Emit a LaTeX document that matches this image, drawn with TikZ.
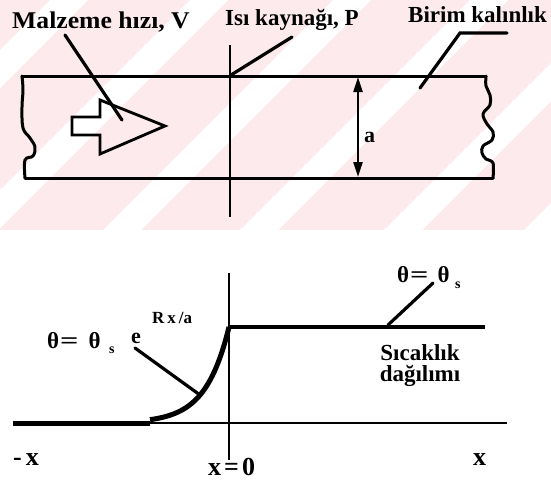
\documentclass[tikz,border=0pt]{standalone}
\usepackage{fontspec}
\setmainfont{Liberation Serif}
\newfontfamily\heavyfont{Liberation Serif}[UprightFont={* Bold}]
\usetikzlibrary{arrows.meta}
\definecolor{wmpink}{RGB}{253,234,237}
\begin{document}
\begin{tikzpicture}[x=1pt,y=-1pt,
  lbl/.style={inner sep=0pt, anchor=base west, font=\heavyfont\fontsize{#1}{#1}\selectfont},
  edge3/.style={line width=3pt, line cap=round, line join=round},
  leader/.style={line width=3.2pt, line cap=round},
  axis/.style={line width=2.4pt},
  dimtip/.style={line width=2.2pt, {Triangle[length=15pt,width=9pt]}-{Triangle[length=15pt,width=9pt]}}
]
\useasboundingbox (0,0) rectangle (551,482);
\fill[white] (0,0) rectangle (551,482);
% watermark background
\begin{scope}
  \clip (0,0) rectangle (551,230);
  \fill[wmpink] (0,0) rectangle (551,230);
  \foreach \c in {50,190,333,470,614,754} {
    \fill[white] (\c,0) -- (\c+38,0) -- (\c+38-230,230) -- (\c-230,230) -- cycle;
  }
\end{scope}

% ---------- upper part: strip ----------
\draw[edge3] (22,76) -- (486,76);
\draw[edge3] (25,178) -- (493,178);
\draw[edge3] plot[smooth, tension=0.6] coordinates {(22,76) (23,90) (22,107) (23,128) (30,138) (35,147) (33,156) (25,160) (25,178)};
\draw[edge3] plot[smooth, tension=0.6] coordinates {(486,76) (486,86) (490,95) (490,105) (483,114) (487,124) (493,132) (492,140) (483,146) (482,153) (486,159) (493,163) (493,178)};

% heat source line
\coordinate (srcTop) at (230,45);
\coordinate (srcBot) at (230,217);
\coordinate (srcHit) at (231,75);
\draw[axis] (srcTop) -- (srcBot);

% hollow arrow (material velocity)
\draw[line width=2.8pt, line join=miter] (72,117) -- (100,117) -- (100,100) -- (165,126) -- (100,154) -- (100,135) -- (72,135) -- cycle;

% dimension a
\coordinate (dimTop) at (358,77);
\coordinate (dimBot) at (358,177);
\draw[dimtip] (dimTop) -- (dimBot);
\node[lbl=22] (alab) at (364,142) {a};

% labels
\node[lbl=24] (malz) at (12,28) {\scalebox{1.07}[1]{Malzeme hızı, V}};
\node[lbl=23] (isi) at (225,25) {Isı kaynağı, P};
\node[lbl=23] (birim) at (408,22) {Birim kalınlık};

\coordinate (malzA) at (65,35);
\coordinate (malzB) at (122,120);
\draw[leader] (malzA) -- (malzB);
\coordinate (isiA) at (292,37);
\draw[leader] (isiA) -- (srcHit);
\coordinate (birA) at (507,33);
\coordinate (birK) at (460,33);
\coordinate (birB) at (420,88);
\draw[leader, line join=miter] (birA) -- (birK) -- (birB);

% ---------- lower part: temperature distribution ----------
\coordinate (baseL) at (13,423);
\coordinate (baseR) at (507,423);
\coordinate (curveS) at (150,423);
\coordinate (axTop) at (229,273);
\coordinate (axBot) at (229,460);
\coordinate (lvlL) at (229,327);
\coordinate (lvlR) at (485,327);
\draw[line width=2.2pt] (baseL) -- (baseR);
\draw[line width=5pt] (baseL) -- (curveS);
\draw[line width=5pt, domain=150:229, samples=80] plot (\x, {423-96*exp((\x-229)/23.5)});
\draw[axis] (axTop) -- (axBot);
\draw[line width=4pt] (lvlL) -- (lvlR);

% labels lower
\node[lbl=23] (thL) at (47,348) {θ\kern1pt\scalebox{1.4}[1]{=}\kern10ptθ};
\node[lbl=14] (thLs) at (109,353) {s};
\node[lbl=22] (eexp) at (131,343) {e};
\node[lbl=17] (rxa) at (152,323) {R\kern3pt x\kern3pt /a};
\node[lbl=23] (thR) at (397,282) {θ\kern1pt\scalebox{1.4}[1]{=}\kern9ptθ};
\node[lbl=14] (thRs) at (455,288) {s};
\node[inner sep=0pt, anchor=north, align=center,
      font=\heavyfont\fontsize{23}{21}\selectfont] (sic) at (420,344) {Sıcaklık\\dağılımı};
\node[lbl=26] (mx) at (13,465) {-\kern4pt x};
\node[lbl=26] (x0) at (208,475) {x\kern3pt=\kern3pt0};
\node[lbl=26] (px) at (473,465) {x};

\coordinate (expA) at (135,348);
\coordinate (expB) at (200,395);
\draw[leader] (expA) -- (expB);
\coordinate (thA) at (433,283);
\coordinate (thB) at (388,325);
\draw[leader] (thA) -- (thB);
\end{tikzpicture}
\end{document}
